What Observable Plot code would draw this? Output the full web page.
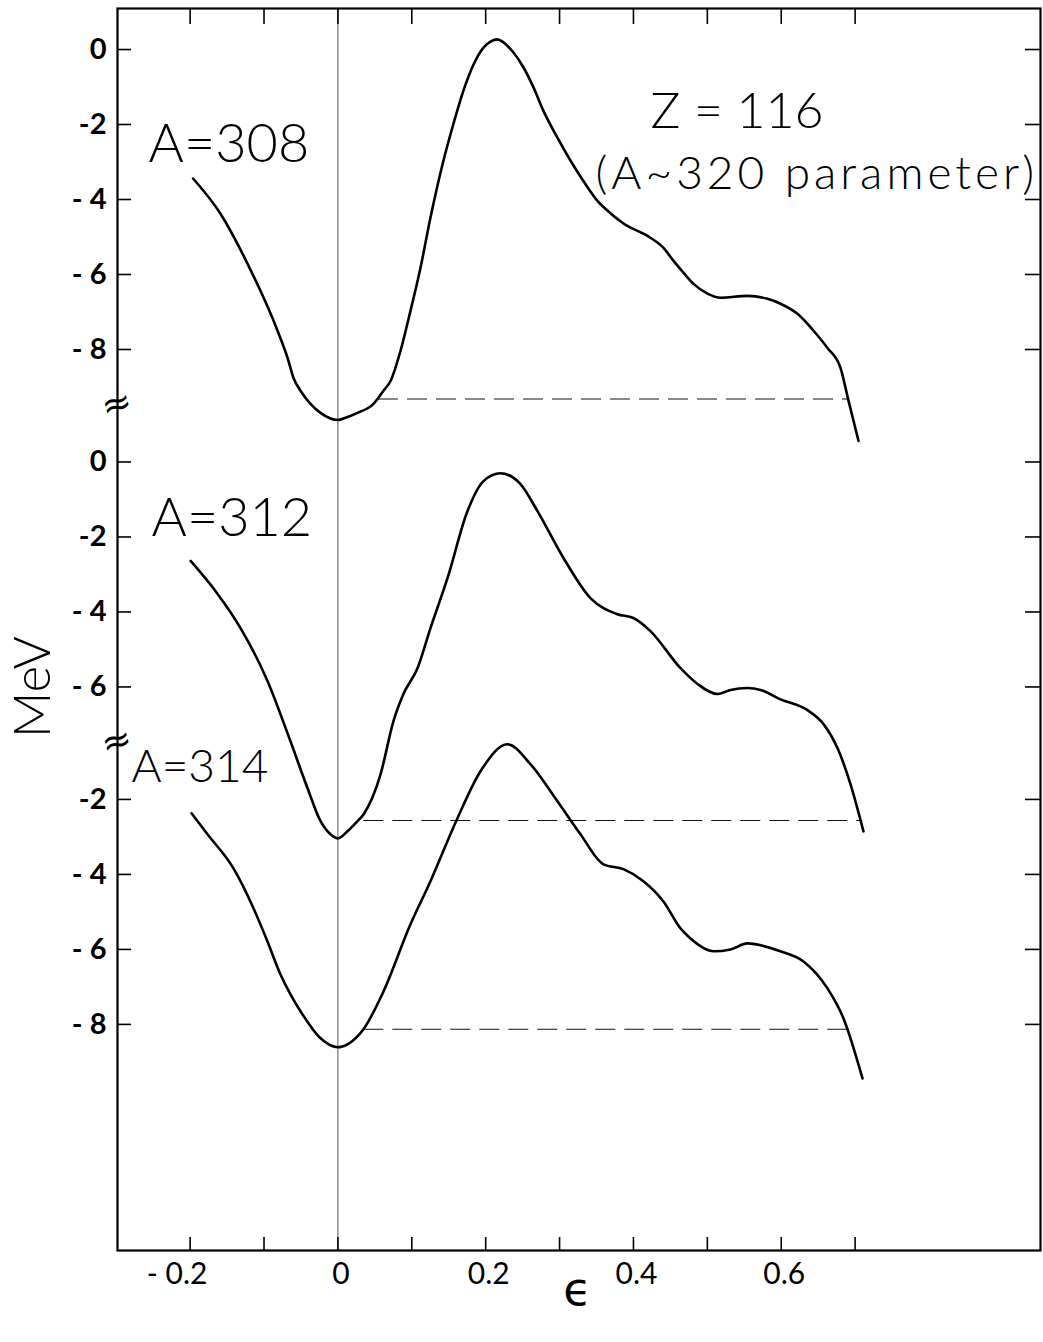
<!DOCTYPE html>
<html><head><meta charset="utf-8">
<script src="https://cdn.jsdelivr.net/npm/d3@7"></script>
<script src="https://cdn.jsdelivr.net/npm/@observablehq/plot@0.6"></script>
<style>body{margin:0;background:#fff} svg{display:block}</style>
</head><body><div id="chart"></div>
<script>
// ---- data ----
const panelNames = ["A=308", "A=312", "A=314"];
const panelOffsets = [0, -11, -18];          // vertical shift of each stacked panel (MeV)
const panelTicks = [[0, -2, -4, -6, -8], [0, -2, -4, -6], [-2, -4, -6, -8]];
const panelTickLabels = [["0", "-2", "- 4", "- 6", "- 8"], ["0", "-2", "- 4", "- 6"], ["-2", "- 4", "- 6", "- 8"]];

const x308 = [-0.196,-0.1589,-0.1224,-0.0817,-0.0682,-0.0601,-0.0506,-0.0371,-0.0235,0,0.0103,0.0265,0.0482,0.0617,0.0712,0.0847,0.0982,0.1118,0.1253,0.1429,0.1564,0.170,0.1836,0.197,0.2065,0.216,0.2241,0.2376,0.2512,0.2647,0.278,0.2971,0.3147,0.332,0.351,0.365,0.3865,0.423,0.4406,0.454,0.4676,0.4813,0.5002,0.5178,0.5544,0.5814,0.599,0.622,0.6437,0.6626,0.6802,0.6911,0.7046];
const y308 = [-3.44,-4.38,-5.71,-7.50,-8.22,-8.76,-9.10,-9.45,-9.69,-9.88,-9.82,-9.69,-9.45,-9.10,-8.84,-8.04,-6.97,-5.82,-4.48,-2.96,-1.98,-1.09,-0.40,0.05,0.21,0.27,0.19,-0.08,-0.48,-1.01,-1.63,-2.35,-2.96,-3.50,-4.03,-4.30,-4.64,-5.02,-5.29,-5.63,-5.95,-6.25,-6.51,-6.62,-6.57,-6.65,-6.78,-7.05,-7.50,-7.96,-8.49,-9.37,-10.44];

const x312 = [-0.1993,-0.1628,-0.1318,-0.0953,-0.0642,-0.0411,-0.0235,-0.010,0,0.013,0.0265,0.0346,0.0577,0.0752,0.0887,0.1077,0.1253,0.1483,0.1754,0.197,0.220,0.2471,0.2701,0.3053,0.3418,0.3783,0.3999,0.423,0.4637,0.4867,0.5137,0.5313,0.5544,0.5720,0.599,0.6355,0.6572,0.6761,0.6937,0.7113];
const y312 = [-2.64,-3.52,-4.43,-5.84,-7.45,-8.70,-9.58,-9.93,-10.04,-9.85,-9.58,-9.40,-8.33,-6.91,-6.19,-5.50,-4.43,-3.10,-1.31,-0.51,-0.30,-0.59,-1.31,-2.56,-3.63,-4.06,-4.16,-4.51,-5.50,-5.92,-6.19,-6.08,-6.03,-6.08,-6.33,-6.62,-6.99,-7.63,-8.59,-9.85];

const x314 = [-0.1981,-0.1765,-0.1413,-0.1143,-0.0953,-0.0777,-0.0642,-0.0506,-0.0235,0,0.013,0.0346,0.0617,0.0982,0.1253,0.1618,0.193,0.2295,0.2606,0.2971,0.3283,0.3594,0.3864,0.4135,0.4406,0.4637,0.4772,0.5083,0.5313,0.5544,0.599,0.6301,0.6626,0.6843,0.710];
const y314 = [-2.37,-2.93,-3.84,-4.90,-5.79,-6.67,-7.20,-7.65,-8.37,-8.61,-8.53,-8.13,-7.12,-5.33,-4.18,-2.50,-1.25,-0.53,-1.06,-2.05,-2.93,-3.73,-3.86,-4.18,-4.72,-5.44,-5.71,-6.05,-6.00,-5.84,-6.05,-6.32,-7.04,-7.84,-9.44];

// dashed reference levels (local MeV) and their x extents
const dashLevel = [-9.32, -9.56, -8.13];
const dashX1 = [0.055, 0.035, 0.035];
const dashX2 = [0.690, 0.707, 0.690];

// label anchors (local MeV within each panel, start of text)
const nameX = [-0.2563, -0.2523, -0.2793];
const nameY = [-2.54, -1.51, -1.13];

const xTicks = [-0.2, -0.1, 0, 0.1, 0.2, 0.3, 0.4, 0.5, 0.6, 0.7];
const xLabelValues = [0, 0.2, 0.4, 0.6];
const xLabelTexts = ["0", "0.2", "0.4", "0.6"];
const xNegLabelValues = [-0.2];
const xNegLabelTexts = ["- 0.2"];
const breakMarks = [-9.45, -18.45];  // global positions of axis-break symbols

const titleLine1 = "Z = 116";
const titleLine2 = "(A~320 parameter)";
const xTitle = "\u03F5";
const yTitle = "MeV";

// ---- build tables ----
const xs = [x308, x312, x314], ys = [y308, y312, y314];
const lineRows = [];
xs.forEach((arr, i) => arr.forEach((x, j) => lineRows.push({series: panelNames[i], x, y: ys[i][j] + panelOffsets[i]})));
const tickRows = [];
panelTicks.forEach((t, i) => t.forEach((v, j) => tickRows.push({y: v + panelOffsets[i], label: panelTickLabels[i][j]})));
const yTickGlobal = tickRows.map(d => d.y);
const dashRows = dashLevel.map((v, i) => ({y: v + panelOffsets[i], x1: dashX1[i], x2: dashX2[i]}));
const nameRows = panelNames.map((n, i) => ({x: nameX[i], y: nameY[i] + panelOffsets[i], text: n}));
const xLabelRows = xLabelValues.map((v, i) => ({x: v, text: xLabelTexts[i]}));
const xNegRows = xNegLabelValues.map((v, i) => ({x: v, text: xNegLabelTexts[i]}));

const lightFont = "Lato, 'Open Sans', sans-serif";

const chart = Plot.plot({
  width: 1043, height: 1342,
  marginLeft: 117, marginRight: 3, marginTop: 8, marginBottom: 92,
  x: {domain: [-0.2983, 0.9509]},
  y: {domain: [-32.03, 1.094]},
  style: {background: "white", fontFamily: lightFont, color: "black"},
  marks: [
    Plot.ruleX([0], {stroke: "#555", strokeWidth: 1}),
    Plot.axisX(xTicks, {anchor: "bottom", tickSize: -13, tickFormat: () => "", label: null, strokeWidth: 1.6}),
    Plot.axisX(xTicks, {anchor: "top", tickSize: -15, tickFormat: () => "", label: null, strokeWidth: 1.6}),
    Plot.axisY(yTickGlobal, {anchor: "left", tickSize: -14, tickFormat: () => "", label: null, strokeWidth: 1.6}),
    Plot.axisY(yTickGlobal, {anchor: "right", tickSize: -16, tickFormat: () => "", label: null, strokeWidth: 1.6}),
    Plot.frame({stroke: "black", strokeWidth: 2.2}),
    Plot.ruleY(dashRows, {y: "y", x1: "x1", x2: "x2", stroke: "#111", strokeWidth: 1.1, strokeDasharray: "20,9"}),
    Plot.line(lineRows, {x: "x", y: "y", z: "series", curve: "monotone-x", stroke: "black", strokeWidth: 2.6}),
    Plot.text(tickRows, {frameAnchor: "left", y: "y", text: "label", textAnchor: "end", lineAnchor: "middle", dx: -11, fontSize: 29, fontWeight: "bold"}),
    Plot.text(xLabelRows, {x: "x", frameAnchor: "bottom", text: "text", textAnchor: "middle", lineAnchor: "middle", dy: 24, dx: 3, fontSize: 30, fontWeight: 400}),
    Plot.text(xNegRows, {x: "x", frameAnchor: "bottom", text: "text", textAnchor: "middle", lineAnchor: "middle", dy: 24, dx: -13, fontSize: 30, fontWeight: 400}),
    Plot.text([xTitle], {x: () => 0.324, frameAnchor: "bottom", text: d => d, textAnchor: "middle", lineAnchor: "middle", dy: 40, fontSize: 46, fontFamily: "DejaVu Sans"}),
    Plot.text([yTitle], {frameAnchor: "left", y: () => -17.0, text: d => d, textAnchor: "middle", lineAnchor: "middle", dx: -84, rotate: -90, fontSize: 51, fontWeight: 300}),
    Plot.text(nameRows.slice(0, 2), {x: "x", y: "y", text: "text", textAnchor: "start", lineAnchor: "middle", fontSize: 54, fontWeight: 300}),
    Plot.text(nameRows.slice(2), {x: "x", y: "y", text: "text", textAnchor: "start", lineAnchor: "middle", fontSize: 46, fontWeight: 300}),
    Plot.text([titleLine1], {x: () => 0.423, y: () => -1.655, text: d => d, textAnchor: "start", lineAnchor: "middle", fontSize: 50, fontWeight: 300}),
    Plot.text([titleLine2], {x: () => 0.3486, y: () => -3.34, text: d => d, textAnchor: "start", lineAnchor: "middle", fontSize: 46, fontWeight: 300}),
    Plot.text(breakMarks, {frameAnchor: "left", y: d => d, text: () => "\u2248", textAnchor: "middle", lineAnchor: "middle", dx: -1, fontSize: 36, rotate: -15, fontFamily: "DejaVu Sans"})
  ]
});
d3.select(chart).selectAll("text").filter(function() { return this.textContent === titleLine2; }).attr("letter-spacing", "4px");
document.getElementById("chart").appendChild(chart);
</script>
</body></html>
